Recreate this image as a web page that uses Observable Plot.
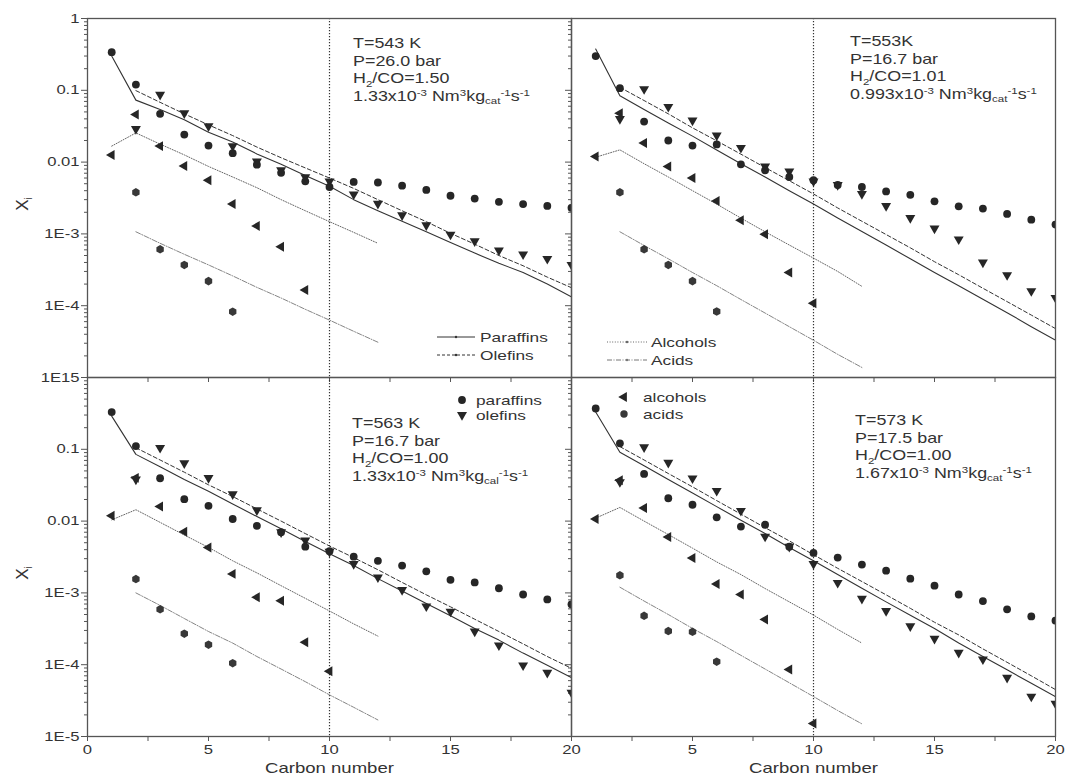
<!DOCTYPE html>
<html><head><meta charset="utf-8">
<script src="https://cdn.jsdelivr.net/npm/d3@7"></script>
<script src="https://cdn.jsdelivr.net/npm/@observablehq/plot@0.6"></script>
<style>
html,body{margin:0;padding:0;background:#fff;}
#chart{width:1069px;height:780px;}
</style></head><body><div id="chart"></div>
<script>
// ---------------- data ----------------
const carbon = [1,2,3,4,5,6,7,8,9,10,11,12,13,14,15,16,17,18,19,20];
const seriesNames = ["paraffins","olefins","alcohols","acids"];
const panelCols = ["L","R","L","R"];
const panelRows = ["T","T","B","B"];

// T=543 K (top left)
const tlParObs = [0.34,0.12,0.047,0.0242,0.017,0.0133,0.0092,0.0071,0.0054,0.0045,0.0053,0.0052,0.0047,0.0041,0.0034,0.0031,0.0028,0.0026,0.00245,0.0023];
const tlOleObs = [null,0.029,0.087,0.048,0.0316,0.0167,0.0102,0.0077,0.0062,0.0054,0.00356,0.00264,0.00182,0.00132,0.00098,0.00079,0.00059,0.00052,0.00045,0.00037];
const tlAlcObs = [0.0126,0.046,0.0167,0.0088,0.0056,0.0026,0.00129,0.00066,0.000165];
const tlAcidObs = [null,0.0038,0.00061,0.00037,0.00022,0.0000826];
const tlParMod = [0.30,0.073,0.054,0.039,0.026,0.019,0.013,0.0093,0.0065,0.0046,0.0030,0.0021,0.0015,0.00107,0.00076,0.00054,0.00039,0.00029,0.00020,0.000133];
const tlOleMod = [null,0.099,0.068,0.047,0.033,0.0234,0.0162,0.0115,0.0083,0.006,0.0043,0.003,0.0021,0.00148,0.00102,0.00072,0.0005,0.00036,0.00025,0.000178];
const tlAlcMod = [0.0167,0.0255,0.0178,0.0126,0.0087,0.0062,0.0044,0.003,0.0021,0.00148,0.00105,0.00074];
const tlAcidMod = [null,0.00107,0.00074,0.00052,0.00037,0.00026,0.00018,0.000128,0.000089,0.000063,0.000044,0.000031];

// T=553 K (top right)
const trParObs = [0.30,0.107,0.0367,0.02,0.017,0.0176,0.0093,0.0077,0.0062,0.0056,0.0048,0.0045,0.0039,0.0035,0.00284,0.00242,0.00225,0.0019,0.00158,0.00135];
const trOleObs = [null,0.04,0.104,0.059,0.038,0.0235,0.0158,0.0087,0.0074,0.0054,0.0048,0.0036,0.00245,0.00167,0.00119,0.00084,0.0004,0.000267,0.00016,0.000129];
const trAlcObs = [0.012,0.048,0.0184,0.0087,0.006,0.00287,0.00155,0.00099,0.00029,0.000108];
const trAcidObs = [null,0.0038,0.00061,0.00037,0.00022,0.000083];
const trParMod = [0.375,0.084,0.054,0.035,0.023,0.0147,0.0095,0.0062,0.004,0.0026,0.00167,0.00108,0.0007,0.00045,0.00029,0.00019,0.000123,0.00008,0.000051,0.000033];
const trOleMod = [null,0.11,0.072,0.047,0.030,0.0198,0.0129,0.0084,0.0055,0.0036,0.0023,0.0015,0.00098,0.00064,0.00041,0.00027,0.000175,0.000114,0.000074,0.000048];
const trAlcMod = [0.0117,0.0148,0.0095,0.0062,0.004,0.0026,0.00166,0.00107,0.0007,0.00046,0.0003,0.000186];
const trAcidMod = [null,0.00107,0.00069,0.00045,0.00029,0.00019,0.000122,0.000079,0.000051,0.000033,0.000021,0.0000138];

// T=563 K (bottom left)
const blParObs = [0.33,0.111,0.0395,0.0202,0.0163,0.0107,0.0086,0.007,0.0044,0.0038,0.0032,0.0028,0.0024,0.002,0.00152,0.0014,0.00116,0.00095,0.00081,0.00069];
const blOleObs = [null,0.038,0.105,0.064,0.04,0.0237,0.0142,0.007,0.0054,0.00375,0.00253,0.00165,0.0011,0.00065,0.00055,0.00029,0.000186,0.000098,0.0000775,0.000041];
const blAlcObs = [0.0119,0.04,0.016,0.0071,0.0043,0.00184,0.00087,0.00078,0.000206,0.0000808];
const blAcidObs = [null,0.00156,0.00059,0.00027,0.00019,0.000105];
const blParMod = [0.29,0.085,0.057,0.038,0.026,0.0173,0.0116,0.0078,0.0052,0.0035,0.0024,0.00158,0.00106,0.00071,0.00048,0.00032,0.00022,0.000145,0.000098,0.000066];
const blOleMod = [null,0.105,0.071,0.048,0.032,0.022,0.0148,0.01,0.0067,0.0045,0.0031,0.0021,0.0014,0.00094,0.00064,0.00043,0.00029,0.000195,0.00013,0.000089];
const blAlcMod = [0.0104,0.0144,0.0096,0.0064,0.0043,0.0028,0.0019,0.00126,0.00084,0.00056,0.00037,0.00025];
const blAcidMod = [null,0.001,0.00067,0.00044,0.00029,0.0002,0.00013,0.000087,0.000058,0.000038,0.0000255,0.000017];

// T=573 K (bottom right)
const brParObs = [0.37,0.121,0.0454,0.0208,0.0169,0.0113,0.0084,0.0089,0.0044,0.0036,0.0031,0.00248,0.00204,0.00158,0.00126,0.00095,0.00077,0.00059,0.00047,0.00041];
const brOleObs = [null,0.035,0.107,0.065,0.0395,0.0264,0.0139,0.0061,0.0044,0.00253,0.00138,0.00083,0.00056,0.000344,0.00023,0.000147,0.000119,0.0000659,0.000036,0.0000287];
const brAlcObs = [0.0107,0.037,0.0152,0.006,0.00306,0.00133,0.00095,0.000427,0.000086,0.0000152];
const brAcidObs = [null,0.00176,0.00048,0.000294,0.000287,0.00011];
const brParMod = [0.33,0.091,0.059,0.038,0.0246,0.0159,0.0103,0.0067,0.0043,0.0028,0.0018,0.00116,0.00075,0.00049,0.00032,0.0002,0.00013,0.000085,0.000055,0.000036];
const brOleMod = [null,0.109,0.071,0.046,0.030,0.0193,0.0125,0.0081,0.0053,0.0034,0.0022,0.00144,0.00094,0.00061,0.00039,0.00026,0.000166,0.000108,0.00007,0.000045];
const brAlcMod = [0.011,0.0155,0.01,0.0065,0.0042,0.0027,0.0018,0.00115,0.00075,0.00049,0.00031,0.0002];
const brAcidMod = [null,0.0012,0.00077,0.0005,0.00032,0.00021,0.000135,0.000087,0.000056,0.000036,0.000023,0.000015];

// conditions text
const condT = ["T=543 K","T=553K","T=563 K","T=573 K"];
const condP = ["P=26.0 bar","P=16.7 bar","P=16.7 bar","P=17.5 bar"];
const condRatio = ["1.50","1.01","1.00","1.00"];
const condFlow = ["1.33","0.993","1.33","1.67"];
const condCat = ["cat","cat","cal","cat"];

// ticks & labels
const yMajorTicks = [1,0.1,0.01,0.001,0.0001,0.00001];
const yMajorLabelsTop = ["1","0.1","0.01","1E-3","1E-4","1E15"];
const yMajorLabelsBottom = ["","0.1","0.01","1E-3","1E-4","1E-5"];
const yMinorMult = [2,3,4,5,6,7,8,9];
const xMajorTicks = [0,5,10,15,20];
const xMinorTicks = [2.5,7.5,12.5,17.5];
const xLabelsLeft = ["0","5","10","15","20"];
const xLabelsRight = ["","5","10","15","20"];
const xTitle = "Carbon number";
const yTitle = "X";
const yTitleSub = "i";
const legendLines = ["Paraffins","Olefins","Alcohols","Acids"];
const legendSymbols = ["paraffins","olefins","alcohols","acids"];

// ---------------- tables ----------------
const obsSets = [[tlParObs,tlOleObs,tlAlcObs,tlAcidObs],[trParObs,trOleObs,trAlcObs,trAcidObs],[blParObs,blOleObs,blAlcObs,blAcidObs],[brParObs,brOleObs,brAlcObs,brAcidObs]];
const modSets = [[tlParMod,tlOleMod,tlAlcMod,tlAcidMod],[trParMod,trOleMod,trAlcMod,trAcidMod],[blParMod,blOleMod,blAlcMod,blAcidMod],[brParMod,brOleMod,brAlcMod,brAcidMod]];
function toRows(sets) {
  const rows = [];
  sets.forEach((set, p) => set.forEach((arr, s) => arr.forEach((v, i) => {
    if (v != null) rows.push({col: panelCols[p], row: panelRows[p], s: seriesNames[s], n: carbon[i], v});
  })));
  return rows;
}
const obs = toRows(obsSets);
const mod = toRows(modSets);
const yMinorTicks = [];
yMajorTicks.slice(1).forEach(d => yMinorMult.forEach(m => yMinorTicks.push(d * m)));
const yLabelRows = [];
yMajorTicks.forEach((t, i) => {
  if (yMajorLabelsTop[i]) yLabelRows.push({row: "T", v: t, label: yMajorLabelsTop[i]});
  if (yMajorLabelsBottom[i]) yLabelRows.push({row: "B", v: t, label: yMajorLabelsBottom[i]});
});
const xLabelRows = [];
xMajorTicks.forEach((t, i) => {
  if (xLabelsLeft[i]) xLabelRows.push({col: "L", v: t, label: xLabelsLeft[i]});
  if (xLabelsRight[i]) xLabelRows.push({col: "R", v: t, label: xLabelsRight[i]});
});

// ---------------- plot ----------------
const FONT = "'Liberation Sans', Arial, Helvetica, sans-serif";
const INK = "#262626";
const AX = "#555";
const TXT = "#333";
const STRETCH = 1.28; // the scanned figure's lettering is horizontally stretched
const sel = (arr, s) => arr.filter(d => d.s === s);

const plot = Plot.plot({
  width: 1069, height: 780,
  marginLeft: 87, marginRight: 14, marginTop: 17, marginBottom: 44,
  style: {fontFamily: FONT, fontSize: "13px", color: TXT, background: "#fff", overflow: "visible"},
  x: {domain: [0, 20]},
  y: {type: "log", domain: [1e-5, 1]},
  fx: {domain: ["L","R"], padding: 0, axis: null},
  fy: {domain: ["T","B"], padding: 0, axis: null},
  marks: [
    Plot.axisY(yMinorTicks, {anchor: "left", tickSize: 3, fill: "none", label: null, facetAnchor: null, stroke: AX}),
    Plot.axisY(yMajorTicks, {anchor: "left", tickSize: 6, fill: "none", label: null, facetAnchor: null, stroke: AX}),
    Plot.axisX(xMajorTicks.concat(xMinorTicks), {anchor: "bottom", tickSize: 5, fill: "none", label: null, facetAnchor: null, stroke: AX}),
    Plot.ruleX([10], {stroke: "#333", strokeDasharray: "1.2,1.8", strokeWidth: 1.2}),
    Plot.line(sel(mod, "acids"), {x: "n", y: "v", fx: "col", fy: "row", stroke: "#777", strokeWidth: 0.9, strokeDasharray: "5,1.5,1,1.5", clip: "frame"}),
    Plot.line(sel(mod, "alcohols"), {x: "n", y: "v", fx: "col", fy: "row", stroke: "#666", strokeWidth: 1, strokeDasharray: "1,1.6", clip: "frame"}),
    Plot.line(sel(mod, "olefins"), {x: "n", y: "v", fx: "col", fy: "row", stroke: "#333", strokeWidth: 1, strokeDasharray: "4,2.5", clip: "frame"}),
    Plot.line(sel(mod, "paraffins"), {x: "n", y: "v", fx: "col", fy: "row", stroke: "#333", strokeWidth: 1.1, clip: "frame"}),
    Plot.dot(sel(obs, "acids"), {x: "n", y: "v", fx: "col", fy: "row", symbol: "hexagon", r: 3.7, fill: "#383838", stroke: "none", clip: "frame"}),
    Plot.dot(sel(obs, "alcohols"), {x: "n", y: "v", fx: "col", fy: "row", symbol: "triangle", rotate: -90, r: 3.7, fill: INK, stroke: "none", clip: "frame"}),
    Plot.dot(sel(obs, "olefins"), {x: "n", y: "v", fx: "col", fy: "row", symbol: "triangle", rotate: 180, r: 3.7, fill: INK, stroke: "none", clip: "frame"}),
    Plot.dot(sel(obs, "paraffins"), {x: "n", y: "v", fx: "col", fy: "row", symbol: "circle", r: 3.9, fill: INK, stroke: "none", clip: "frame"}),
    Plot.frame({stroke: AX, strokeWidth: 1.3}),
    Plot.text(yLabelRows, {fx: () => "L", fy: "row", y: "v", text: "label", frameAnchor: "left", textAnchor: "end", dx: -8, fill: TXT, fontSize: 13}),
    Plot.text(xLabelRows, {fx: "col", fy: () => "B", x: "v", text: "label", frameAnchor: "bottom", lineAnchor: "top", dy: 8, fill: TXT, fontSize: 13}),
    Plot.text(["L","R"], {fx: d => d, fy: () => "B", text: () => xTitle, frameAnchor: "bottom", lineAnchor: "top", dy: 26, fill: TXT, fontSize: 14.5})
  ]
});
document.getElementById("chart").appendChild(plot);

// widen Plot's own lettering like the scanned original
d3.select(plot).selectAll('g[aria-label="text"] text').each(function () {
  const tr = this.getAttribute("transform") || "";
  this.setAttribute("transform", tr + ` scale(${STRETCH},1)`);
});

// ---------------- annotations, legends, y titles ----------------
const ov = d3.select(plot).append("g").attr("font-family", FONT).attr("fill", TXT).attr("text-anchor", "start");
function rich(x, y, segs, size) {
  const t = ov.append("text").attr("transform", `translate(${x},${y}) scale(${STRETCH},1)`).attr("font-size", size);
  let cur = 0;
  segs.forEach(([s, k]) => {
    const target = k === "sup" ? -5 : k === "sub" ? 3.5 : 0;
    t.append("tspan").attr("dy", target - cur).attr("font-size", k ? Math.round(size * 0.66) : size).text(s);
    cur = target;
  });
  return t;
}
const annPos = [[353, 48], [850, 46], [352, 428], [855, 425]];
annPos.forEach(([x, y], p) => {
  rich(x, y, [[condT[p]]], 14);
  rich(x, y + 17.6, [[condP[p]]], 14);
  rich(x, y + 35.2, [["H"], ["2", "sub"], ["/CO=" + condRatio[p]]], 14);
  rich(x, y + 52.8, [[condFlow[p] + "x10"], ["-3", "sup"], [" Nm"], ["3", "sup"], ["kg"], [condCat[p], "sub"], ["-1", "sup"], ["s"], ["-1", "sup"]], 14);
});

// y titles
[[28, 204], [28, 573]].forEach(([x, y]) => {
  const t = ov.append("text").attr("transform", `translate(${x},${y}) rotate(-90)`).attr("text-anchor", "middle").attr("font-size", 17);
  t.append("tspan").text(yTitle);
  t.append("tspan").attr("dy", 4).attr("font-size", 10).text(yTitleSub);
});

// line legends
const lineStyles = [
  {dash: null, color: "#333"},
  {dash: "3,2", color: "#333"},
  {dash: "1,1.6", color: "#666"},
  {dash: "5,1.5,1,1.5", color: "#777"}
];
const lineLegendPos = [[437, 475, 480, 337], [437, 475, 480, 355], [607, 647, 651, 342], [607, 647, 651, 360]];
lineLegendPos.forEach(([x1, x2, tx, y], i) => {
  const st = lineStyles[i];
  ov.append("line").attr("x1", x1).attr("x2", x2).attr("y1", y).attr("y2", y)
    .attr("stroke", st.color).attr("stroke-width", 1).attr("stroke-dasharray", st.dash);
  ov.append("circle").attr("cx", (x1 + x2) / 2).attr("cy", y).attr("r", 1.2).attr("fill", st.color);
  rich(tx, y + 5, [[legendLines[i]]], 13.5);
});

// symbol legends
const symLegendPos = [[462, 476, 400], [462, 476, 415], [624, 643, 397], [624, 643, 414]];
const symDefs = [
  {type: d3.symbolCircle, size: Math.PI * 3.9 * 3.9, rot: 0, fill: INK},
  {type: d3.symbolTriangle, size: Math.PI * 3.7 * 3.7, rot: 180, fill: INK},
  {type: d3.symbolTriangle, size: Math.PI * 3.7 * 3.7, rot: -90, fill: INK},
  {type: d3.symbolCircle, size: Math.PI * 3.7 * 3.7, rot: 0, fill: "#383838"}
];
symLegendPos.forEach(([sx, tx, y], i) => {
  const sd = symDefs[i];
  ov.append("path").attr("d", d3.symbol(sd.type, sd.size)()).attr("fill", sd.fill)
    .attr("transform", `translate(${sx},${y}) rotate(${sd.rot})`);
  rich(tx, y + 5, [[legendSymbols[i]]], 13.5);
});
</script></body></html>
